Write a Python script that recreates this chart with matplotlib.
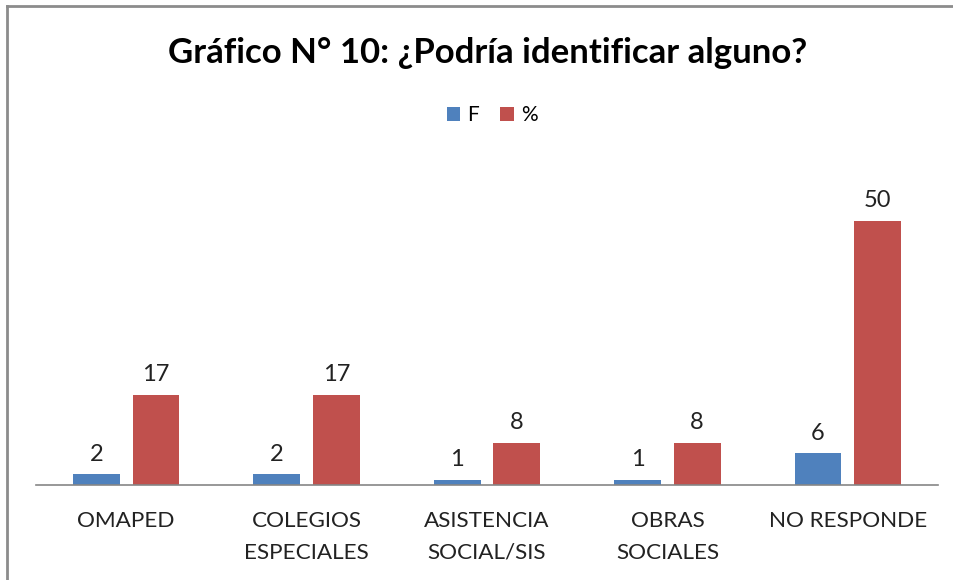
import numpy as np
import matplotlib
matplotlib.use("Agg")
import matplotlib.pyplot as plt
from matplotlib.lines import Line2D

plt.rcParams['font.family'] = ['Lato', 'DejaVu Sans']

categorias = ['OMAPED', 'COLEGIOS\nESPECIALES', 'ASISTENCIA\nSOCIAL/SIS', 'OBRAS\nSOCIALES', 'NO RESPONDE']
frecuencia = [2, 2, 1, 1, 6]
porcentaje = [17, 17, 8, 8, 50]

azul = '#4F81BD'
rojo = '#C0504D'

fig = plt.figure(figsize=(9.54, 5.8), dpi=100)
ax = fig.add_axes([36/954, 1 - 485/580, (938-36)/954, 317/580])

x = np.arange(len(categorias))
w = 0.26
b1 = ax.bar(x - 0.165, frecuencia, w, color=azul, label='F')
b2 = ax.bar(x + 0.165, porcentaje, w, color=rojo, label='%')

ax.bar_label(b1, padding=7, fontsize=17, color='#222222')
ax.bar_label(b2, padding=7, fontsize=17, color='#222222')

ax.set_xlim(-0.5, len(categorias) - 0.5)
ax.set_ylim(0, 60)
ax.set_xticks(x)
ax.set_xticklabels(categorias, fontsize=16.2, linespacing=1.7, color='#222222')
ax.tick_params(axis='x', length=0, pad=19)
ax.set_yticks([])
for s in ['left', 'right', 'top']:
    ax.spines[s].set_visible(False)
ax.spines['bottom'].set_color('#868686')
ax.spines['bottom'].set_linewidth(1.2)

fig.text(488/954, 1 - 53/580, 'Gráfico N° 10: ¿Podría identificar alguno?',
         ha='center', va='center', fontsize=25, fontweight='bold', color='black')

fig.legend(handles=[b1, b2], loc='center', bbox_to_anchor=(492/954, 1 - 115/580),
           ncol=2, frameon=False, fontsize=15, handlelength=0.65, handleheight=0.65,
           handletextpad=0.35, columnspacing=1.0)

# marco del grafico
fig.add_artist(Line2D([7.5/954, 7.5/954], [0, 1 - 6/580], color='#8c8c8c', lw=2, transform=fig.transFigure))
fig.add_artist(Line2D([7.5/954, 1], [1 - 6/580, 1 - 6/580], color='#8c8c8c', lw=2, transform=fig.transFigure))

plt.savefig('out.png', dpi=100)
